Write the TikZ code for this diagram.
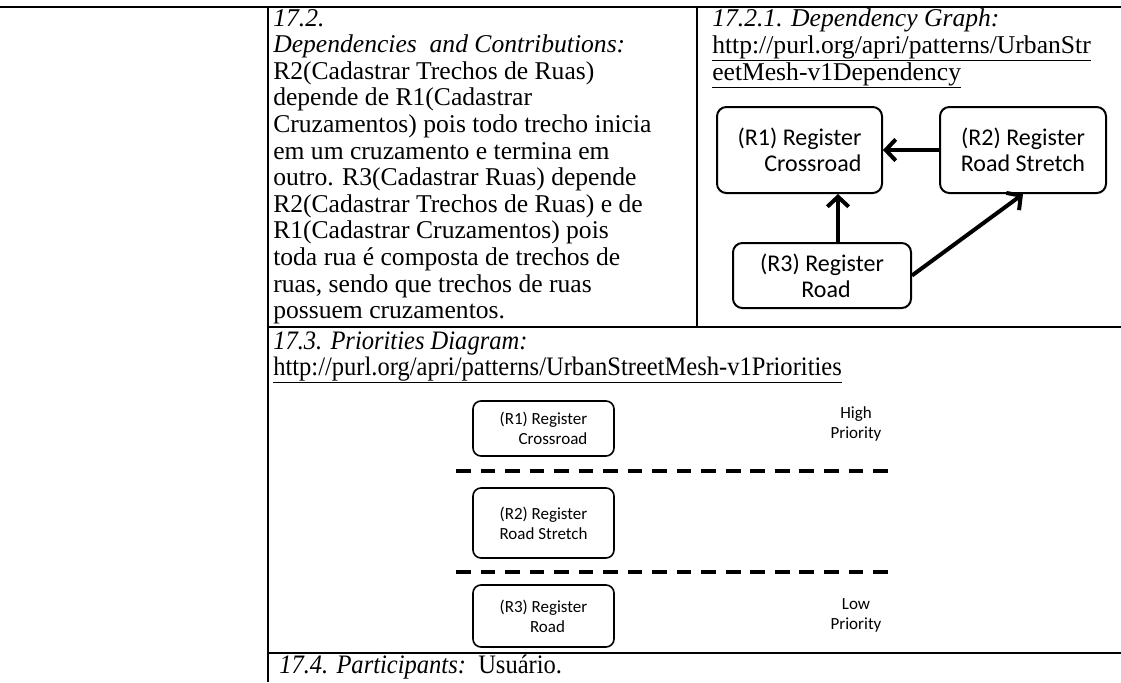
\documentclass[tikz,border=0pt]{standalone}
\usepackage{fontspec}
\setmainfont{Liberation Serif}
\newfontfamily\narrowserif[FakeStretch=0.92]{Liberation Serif}
\newfontfamily\calib{Carlito}
\usetikzlibrary{calc}
\usetikzlibrary{arrows.meta}
\usetikzlibrary{positioning}

\tikzset{
	rule/.style={black, line width=1.5pt},
	celltext/.style={anchor=base west, inner sep=0pt, font=\fontsize{19.2}{20}\selectfont},
	narrowtext/.style={celltext, font=\narrowserif\fontsize{20}{20}\selectfont},
	depbox/.style={draw, line width=1.5pt, rounded corners=7pt, inner sep=0pt, font=\calib\fontsize{18}{19.5}\selectfont},
	depedge/.style={line width=3pt, -{Straight Barb[length=7.5pt, width=16pt]}},
	priobox/.style={draw, line width=1.2pt, rounded corners=6pt, inner sep=0pt, minimum width=105.75pt, font=\calib\fontsize{12.75}{15}\selectfont},
	priolabel/.style={align=center, inner sep=0pt, font=\calib\fontsize{12.75}{15}\selectfont},
	levelline/.style={line width=2.6pt, dash pattern=on 11pt off 7.4pt},
}

\begin{document}
\begin{tikzpicture}[x=0.75pt, y=-0.75pt]
		\useasboundingbox (0,0) rectangle (1121,682);

		\draw[rule] (0,7) -- (1121,7);
		\draw[rule] (268,7) -- (268,682);
		\draw[rule] (697,7) -- (697,327);
		\draw[rule] (268,327) -- (1121,327);
		\draw[rule] (268,653) -- (1121,653);

		\foreach \txt [count=\i from 0] in {{\itshape 17.2.},
			{\itshape Dependencies\ \ and Contributions:},
			{R2(Cadastrar Trechos de Ruas)},
			{depende de R1(Cadastrar},
			{Cruzamentos) pois todo trecho inicia},
			{em um cruzamento e termina em},
			{outro. R3(Cadastrar Ruas) depende},
			{R2(Cadastrar Trechos de Ruas) e de},
			{R1(Cadastrar Cruzamentos) pois},
			{toda rua é composta de trechos de},
			{ruas, sendo que trechos de ruas},
			{possuem cruzamentos.}}
			\node[celltext] (deptext\i) at (273,26+26.6*\i) {\txt};

		\node[celltext] (graphtitle) at (712,26) {\itshape 17.2.1. Dependency Graph:};
		\node[celltext] (graphurla) at (712,53) {\underline{http://purl.org/apri/patterns/UrbanStr}};
		\node[celltext] (graphurlb) at (712,80) {\underline{eetMesh-v1Dependency}};

		\node[depbox, minimum width=123.75pt, minimum height=64.5pt, align=right] (crossroad) at (799.5,150) {(R1) Register\\Crossroad};
		\node[depbox, minimum width=124.5pt, minimum height=64.5pt, align=center] (stretch) at (1023,150) {(R2) Register\\Road Stretch};
		\node[depbox, minimum width=133.5pt, minimum height=48.75pt, align=center] (road) at (822,275.5) {(R3) Register\\\hspace*{6pt}Road};

		\draw[depedge] (stretch.west) -- (crossroad.east);
		\draw[depedge] ([xshift=12pt]road.north) -- ([xshift=12pt]road.north |- crossroad.south);
		\draw[depedge] (road.east) -- (stretch.south);

		\node[narrowtext] (priotitle) at (273,349) {\itshape 17.3. Priorities Diagram:};
		\node[narrowtext] (priourl) at (273,375) {\underline{http://purl.org/apri/patterns/UrbanStreetMesh-v1Priorities}};

		\node[priobox, minimum height=41.25pt, align=right] (pcross) at (543.5,428.5) {(R1) Register\\Crossroad};
		\node[priobox, minimum height=52.5pt, align=center] (pstretch) at (543.5,523) {(R2) Register\\Road Stretch};
		\node[priobox, minimum height=46.5pt, align=center] (proad) at (543.5,616) {(R3) Register\\\hspace*{6pt}Road};

		\draw[levelline] (456,471) -- (897,471);
		\draw[levelline] (456,572) -- (897,572);

		\node[priolabel] (high) at (856,424) {High\\Priority};
		\node[priolabel] (low) at (856,615) {Low\\Priority};

		\node[narrowtext] (participants) at (279,673) {\itshape 17.4. Participants:\upshape\ \ Usuário.};
	\end{tikzpicture}
\end{document}
